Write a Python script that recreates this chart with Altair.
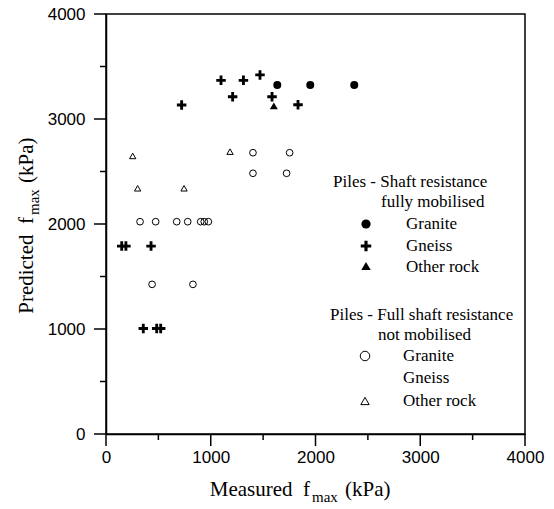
import altair as alt
import pandas as pd

# ---- data ----
granite_full_x = [1635, 1950, 2370]
granite_full_y = [3325, 3325, 3325]

gneiss_full_x = [722, 1098, 1312, 1470, 1209, 1585, 1833, 150, 190, 430, 356, 484, 522]
gneiss_full_y = [3133, 3368, 3368, 3420, 3212, 3212, 3136, 1790, 1790, 1790, 1005, 1005, 1005]

other_full_x = [1602]
other_full_y = [3125]

granite_not_x = [1403, 1753, 1403, 1724, 325, 474, 675, 780, 904, 938, 977, 440, 830]
granite_not_y = [2679, 2679, 2483, 2483, 2022, 2022, 2022, 2022, 2022, 2022, 2022, 1425, 1425]

other_not_x = [255, 302, 745, 1184]
other_not_y = [2648, 2340, 2340, 2689]

major_ticks = [0, 1000, 2000, 3000, 4000]
minor_ticks = [500, 1500, 2500, 3500]

# ---- styling ----
PLUS = "M-1,-0.3H-0.3V-1H0.3V-0.3H1V0.3H0.3V1H-0.3V0.3H-1Z"
SERIF = "Liberation Serif"
SANS = "Liberation Sans"
NB = "\u00a0"

LEFT, TOP = 106, 14
W, H = 419, 420


def make_axis(pad):
    return alt.Axis(
        values=major_ticks,
        format="d",
        ticks=False,
        labelPadding=pad,
        title=None,
        grid=False,
        domainColor="black",
        domainWidth=1.5,
        labelFont=SANS,
        labelFontSize=17,
        labelColor="black",
        labelFlush=False,
        labelOverlap=False,
    )


SC = alt.Scale(domain=[0, 4000], nice=False, zero=False)
X = alt.X("x:Q", scale=SC, axis=make_axis(15))
Y = alt.Y("y:Q", scale=SC, axis=make_axis(21))


def series(xs, ys, **mark):
    df = pd.DataFrame({"x": xs, "y": ys})
    return alt.Chart(df).mark_point(opacity=1, color="black", **mark).encode(x=X, y=Y)


def xticks(vals, length):
    df = pd.DataFrame({"x": vals})
    return alt.Chart(df).mark_rule(color="black", strokeWidth=1.5).encode(
        x=X, y=alt.value(H), y2=alt.value(H + length)
    )


def yticks(vals, length):
    df = pd.DataFrame({"y": vals})
    return alt.Chart(df).mark_rule(color="black", strokeWidth=1.5).encode(
        y=Y, x=alt.value(-length), x2=alt.value(0)
    )


one = pd.DataFrame({"k": [0]})


def label(txt, ax, ay, size=17, align="left", baseline="middle", angle=0):
    return alt.Chart(one).mark_text(
        text=txt, font=SERIF, fontSize=size, align=align, baseline=baseline,
        angle=angle, color="black"
    ).encode(x=alt.value(ax - LEFT), y=alt.value(ay - TOP))


def symbol(ax, ay, **mark):
    return alt.Chart(one).mark_point(opacity=1, color="black", **mark).encode(
        x=alt.value(ax - LEFT), y=alt.value(ay - TOP)
    )


layers = [
    xticks(major_ticks, 12),
    xticks(minor_ticks, 6),
    yticks(major_ticks, 12),
    yticks(minor_ticks, 6),
    series(granite_full_x, granite_full_y, shape="circle", filled=True, size=64),
    series(gneiss_full_x, gneiss_full_y, shape=PLUS, filled=True, size=90),
    series(other_full_x, other_full_y, shape="triangle-up", filled=True, size=64),
    series(granite_not_x, granite_not_y, shape="circle", filled=False, size=45, strokeWidth=1),
    series(other_not_x, other_not_y, shape="triangle-up", filled=False, size=40, strokeWidth=1),
    # legend
    label("Piles - Shaft resistance", 333, 182),
    label("fully mobilised", 381, 202),
    symbol(366, 224, shape="circle", filled=True, size=85),
    label("Granite", 406, 224),
    symbol(366, 246, shape=PLUS, filled=True, size=110),
    label("Gneiss", 406, 246),
    symbol(366, 266, shape="triangle-up", filled=True, size=90),
    label("Other rock", 406, 267),
    label("Piles - Full shaft resistance", 330, 315),
    label("not mobilised", 378, 335),
    symbol(365, 356, shape="circle", filled=False, size=90, strokeWidth=1),
    label("Granite", 403, 356),
    label("Gneiss", 403, 378),
    symbol(365, 401, shape="triangle-up", filled=False, size=70, strokeWidth=1),
    label("Other rock", 403, 401),
    # x title
    label("Measured" + NB + NB + "f", 310, 496, size=21, align="right", baseline="alphabetic"),
    label("max", 312, 502, size=15, baseline="alphabetic"),
    label("(kPa)", 345, 496, size=21, baseline="alphabetic"),
    # y title
    label("Predicted" + NB + NB + "f", 33, 217, size=21, align="right", baseline="alphabetic", angle=270),
    label("max", 39, 215, size=15, baseline="alphabetic", angle=270),
    label("(kPa)", 33, 183, size=21, baseline="alphabetic", angle=270),
]

chart = (
    alt.layer(*layers)
    .properties(
        width=W,
        height=H,
        autosize=alt.AutoSizeParams(type="none"),
        padding={"left": LEFT, "top": TOP, "right": 554 - LEFT - W, "bottom": 509 - TOP - H},
        background="white",
    )
    .configure_view(stroke="black", strokeWidth=1.5)
)

chart.save("out.html", embed_options={"renderer": "svg", "actions": False})
